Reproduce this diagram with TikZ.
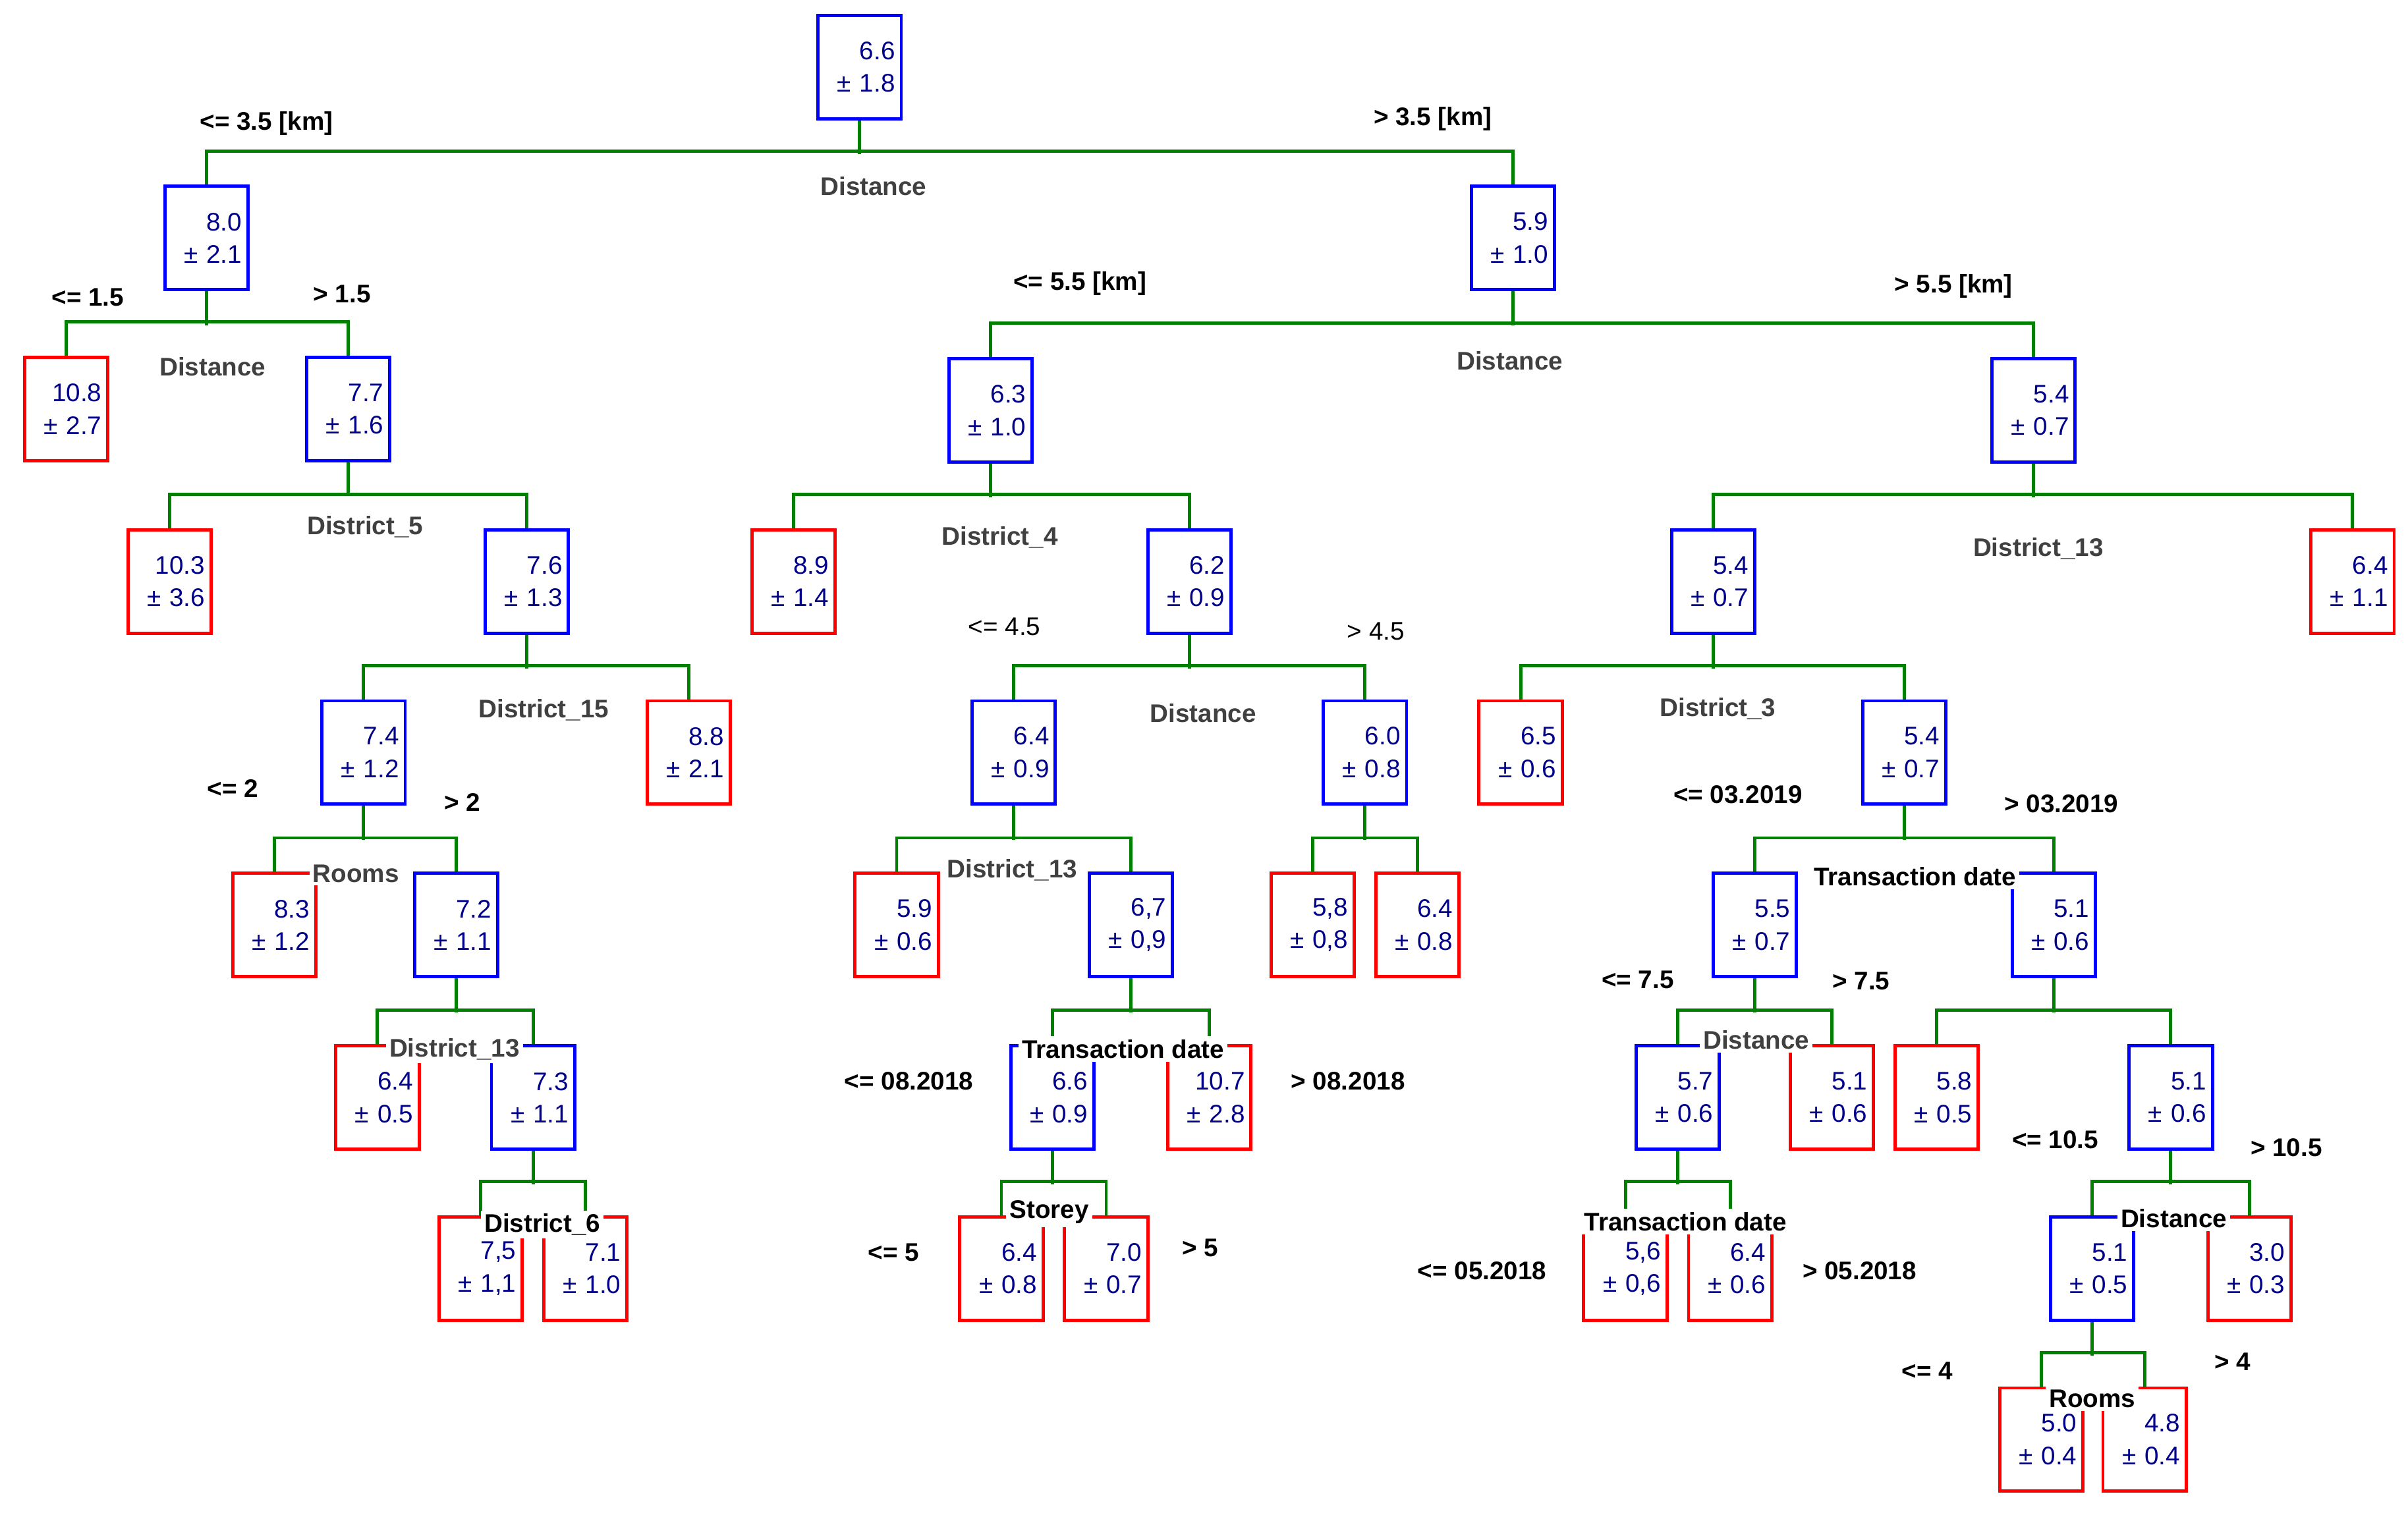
\documentclass[tikz,border=0pt]{standalone}
\usepackage{fontspec}
\setmainfont{Liberation Sans}
\begin{document}
\begin{tikzpicture}[x=0.1mm,y=-0.1mm,font=\fontsize{4.7}{6}\selectfont,
 bx/.style={draw, line width=0.6pt, minimum width=5.4mm, minimum height=6.7mm, text width=4.6mm, align=right, text=navy, inner sep=0pt},
 bb/.style={bx, draw=blue},
 rb/.style={bx, draw=red},
 g/.style={draw=green!50!black, line width=0.6pt},
 th/.style={font=\fontsize{4.7}{6}\selectfont\bfseries, text=black},
 sp/.style={font=\fontsize{4.7}{6}\selectfont\bfseries, text=black!75},
 spw/.style={sp, fill=white, inner sep=0.6pt},
 spb/.style={th, fill=white, inner sep=0.6pt}]
\definecolor{navy}{RGB}{0,0,139}
\useasboundingbox (0,0) rectangle (1563,986);
\newcommand\tn[6]{\node[#4] (#1) at (#2,#3+33.5) {#5\\\textpm\ #6};}
\newcommand\spl[3]{\draw[g] (#1.south) -- ++(0,22); \draw[g] (#2.north) -- ++(0,-22) -| (#3.north);}
% nodes
\tn{r}{558}{10}{bb}{6.6}{1.8}
\tn{a}{134}{121}{bb}{8.0}{2.1}
\tn{b}{982}{121}{bb}{5.9}{1.0}
\tn{a1}{43}{232}{rb}{10.8}{2.7}
\tn{a2}{226}{232}{bb}{7.7}{1.6}
\tn{a21}{110}{344}{rb}{10.3}{3.6}
\tn{a22}{342}{344}{bb}{7.6}{1.3}
\tn{c1}{236}{455}{bb}{7.4}{1.2}
\tn{c2}{447}{455}{rb}{8.8}{2.1}
\tn{c11}{178}{567}{rb}{8.3}{1.2}
\tn{c12}{296}{567}{bb}{7.2}{1.1}
\tn{d1}{245}{679}{rb}{6.4}{0.5}
\tn{d2}{346}{679}{bb}{7.3}{1.1}
\tn{d21}{312}{790}{rb}{7,5}{1,1}
\tn{d22}{380}{790}{rb}{7.1}{1.0}
\tn{b1}{643}{233}{bb}{6.3}{1.0}
\tn{b2}{1320}{233}{bb}{5.4}{0.7}
\tn{e1}{515}{344}{rb}{8.9}{1.4}
\tn{e2}{772}{344}{bb}{6.2}{0.9}
\tn{f1}{658}{455}{bb}{6.4}{0.9}
\tn{f2}{886}{455}{bb}{6.0}{0.8}
\tn{f11}{582}{567}{rb}{5.9}{0.6}
\tn{f12}{734}{567}{bb}{6,7}{0,9}
\tn{f21}{852}{567}{rb}{5,8}{0,8}
\tn{f22}{920}{567}{rb}{6.4}{0.8}
\tn{h1}{683}{679}{bb}{6.6}{0.9}
\tn{h2}{785}{679}{rb}{10.7}{2.8}
\tn{h11}{650}{790}{rb}{6.4}{0.8}
\tn{h12}{718}{790}{rb}{7.0}{0.7}
\tn{k1}{1112}{344}{bb}{5.4}{0.7}
\tn{k2}{1527}{344}{rb}{6.4}{1.1}
\tn{m1}{987}{455}{rb}{6.5}{0.6}
\tn{m2}{1236}{455}{bb}{5.4}{0.7}
\tn{n1}{1139}{567}{bb}{5.5}{0.7}
\tn{n2}{1333}{567}{bb}{5.1}{0.6}
\tn{p1}{1089}{679}{bb}{5.7}{0.6}
\tn{p2}{1189}{679}{rb}{5.1}{0.6}
\tn{q1}{1055}{790}{rb}{5,6}{0,6}
\tn{q2}{1123}{790}{rb}{6.4}{0.6}
\tn{s1}{1257}{679}{rb}{5.8}{0.5}
\tn{s2}{1409}{679}{bb}{5.1}{0.6}
\tn{t1}{1358}{790}{bb}{5.1}{0.5}
\tn{t2}{1460}{790}{rb}{3.0}{0.3}
\tn{u1}{1325}{901}{rb}{5.0}{0.4}
\tn{u2}{1392}{901}{rb}{4.8}{0.4}
% connectors
\spl{r}{a}{b}
\spl{a}{a1}{a2}
\spl{a2}{a21}{a22}
\spl{a22}{c1}{c2}
\spl{c1}{c11}{c12}
\spl{c12}{d1}{d2}
\spl{d2}{d21}{d22}
\spl{b}{b1}{b2}
\spl{b1}{e1}{e2}
\spl{e2}{f1}{f2}
\spl{f1}{f11}{f12}
\spl{f2}{f21}{f22}
\spl{f12}{h1}{h2}
\spl{h1}{h11}{h12}
\spl{b2}{k1}{k2}
\spl{k1}{m1}{m2}
\spl{m2}{n1}{n2}
\spl{n1}{p1}{p2}
\spl{p1}{q1}{q2}
\spl{n2}{s1}{s2}
\spl{s2}{t1}{t2}
\spl{t1}{u1}{u2}
% split labels
\node[sp] (l1) at (567,121) {Distance};
\node[sp] (l2) at (138,238) {Distance};
\node[sp] (l3) at (237,342) {District\_5};
\node[sp] (l4) at (353,461) {District\_15};
\node[spw] (l5) at (231,567) {Rooms};
\node[spw] (l6) at (295,681) {District\_13};
\node[spb] (l7) at (352,795) {District\_6};
\node[sp] (l8) at (980,234) {Distance};
\node[sp] (l9) at (649,349) {District\_4};
\node[sp] (l10) at (781,463) {Distance};
\node[spw] (l11) at (657,565) {District\_13};
\node[spb] (l12) at (729,681) {Transaction date};
\node[spb] (l13) at (681,787) {Storey};
\node[sp] (l14) at (1323,356) {District\_13};
\node[sp] (l15) at (1115,460) {District\_3};
\node[spb] (l16) at (1243,569) {Transaction date};
\node[spw] (l17) at (1140,675) {Distance};
\node[spb] (l18) at (1094,793) {Transaction date};
\node[spb] (l19) at (1411,791) {Distance};
\node[spb] (l20) at (1358,908) {Rooms};
% thresholds
\node[th] (t01) at (173,80) {<= 3.5 [km]};
\node[th] (t02) at (930,77) {> 3.5 [km]};
\node[th] (t03) at (57,193) {<= 1.5};
\node[th] (t04) at (222,191) {> 1.5};
\node[th] (t05) at (151,512) {<= 2};
\node[th] (t06) at (300,521) {> 2};
\node[th] (t07) at (701,184) {<= 5.5 [km]};
\node[th] (t08) at (1268,186) {> 5.5 [km]};
\node[th,font=\fontsize{4.7}{6}\selectfont] (t09) at (652,407) {<= 4.5};
\node[th,font=\fontsize{4.7}{6}\selectfont] (t10) at (893,410) {> 4.5};
\node[th] (t11) at (590,702) {<= 08.2018};
\node[th] (t12) at (875,702) {> 08.2018};
\node[th] (t13) at (580,813) {<= 5};
\node[th] (t14) at (779,810) {> 5};
\node[th] (t15) at (1128,516) {<= 03.2019};
\node[th] (t16) at (1338,522) {> 03.2019};
\node[th] (t17) at (1063,636) {<= 7.5};
\node[th] (t18) at (1208,637) {> 7.5};
\node[th] (t19) at (962,825) {<= 05.2018};
\node[th] (t20) at (1207,825) {> 05.2018};
\node[th] (t21) at (1334,740) {<= 10.5};
\node[th] (t22) at (1484,745) {> 10.5};
\node[th] (t23) at (1251,890) {<= 4};
\node[th] (t24) at (1449,884) {> 4};
\end{tikzpicture}
\end{document}
